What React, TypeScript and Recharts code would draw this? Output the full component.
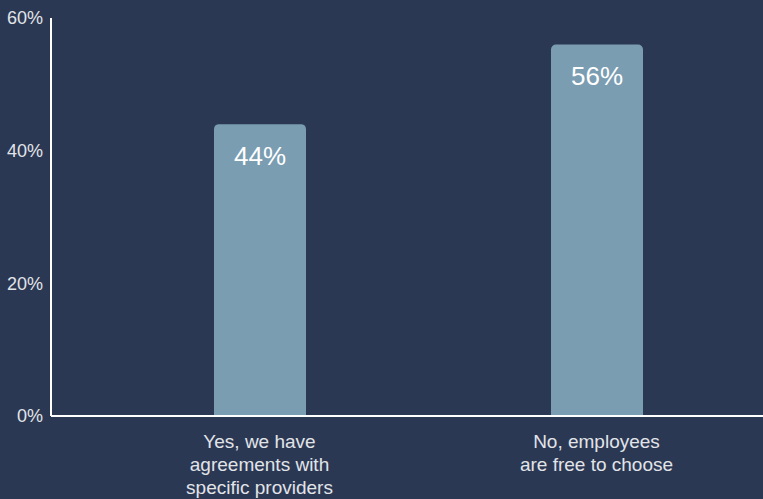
import { BarChart, Bar, XAxis, YAxis, LabelList } from "recharts";

const categories = [
  ["Yes, we have", "agreements with", "specific providers"],
  ["No, employees", "are free to choose"],
];
const shares = [44, 56];
const yTicks = [0, 20, 40, 60];

const data = categories.map((lines, i) => ({ name: lines.join(" "), lines, value: shares[i] }));

const BG = "#2b3854";
const BAR = "#7a9db2";
const TEXT = "#e2e4e8";
const FONT = "'Liberation Sans', Arial, sans-serif";

function CategoryTick(props: any) {
  const { x, y, payload, index } = props;
  const lines = data[index]?.lines ?? [payload.value];
  return (
    <text x={x} y={y} textAnchor="middle" fill={TEXT} fontSize={19} fontFamily={FONT}>
      {lines.map((l: string, i: number) => (
        <tspan key={i} x={x} dy={i === 0 ? 24 : 23}>
          {l}
        </tspan>
      ))}
    </text>
  );
}

export default function App() {
  return (
    <div style={{ position: "fixed", left: 0, top: 0, width: 763, height: 499, background: BG, overflow: "hidden" }}>
      <BarChart width={765} height={499} data={data} margin={{ top: 18, right: 0, bottom: 0, left: 0 }}>
        <XAxis
          dataKey="name"
          height={83}
          padding={{ left: 40, right: 0 }}
          axisLine={{ stroke: "#ffffff", strokeWidth: 2 }}
          tickLine={false}
          interval={0}
          tick={<CategoryTick />}
        />
        <YAxis
          width={51}
          domain={[0, 60]}
          ticks={yTicks}
          tickFormatter={(v: number) => `${v}%`}
          axisLine={{ stroke: "#ffffff", strokeWidth: 2 }}
          tickLine={false}
          tick={{ fill: TEXT, fontSize: 18, fontFamily: FONT }}
        />
        <Bar dataKey="value" fill={BAR} barSize={92} radius={[5, 5, 0, 0]} isAnimationActive={false}>
          <LabelList
            dataKey="value"
            position="insideTop"
            offset={22}
            formatter={(v: any) => `${v}%`}
            fill="#ffffff"
            fontSize={26}
            fontFamily={FONT}
          />
        </Bar>
      </BarChart>
    </div>
  );
}
